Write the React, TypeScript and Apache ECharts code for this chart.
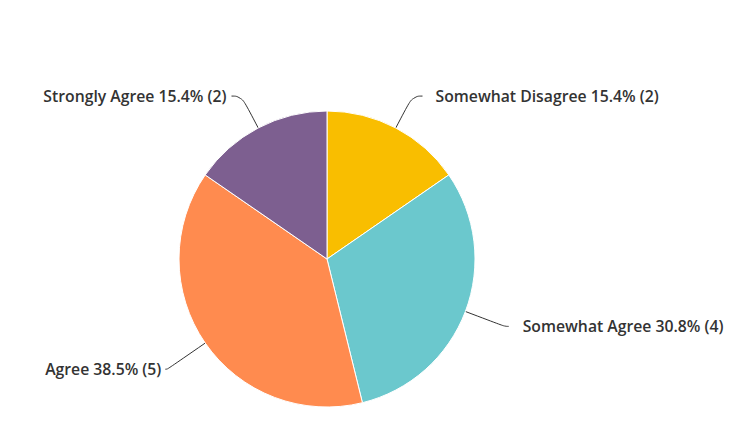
import React, { useEffect, useRef } from "react";
import * as echarts from "echarts";

const categories = ["Somewhat Disagree", "Somewhat Agree", "Agree", "Strongly Agree"];
const counts = [2, 4, 5, 2];
const percents = ["15.4%", "30.8%", "38.5%", "15.4%"];
const colors = ["#F9BE00", "#6BC8CD", "#FF8B4F", "#7D5F90"];
const labelGaps = [13, 14, 4, 5];
const lineLengths = [36, 42, 46, 36];
const lineLengths2 = [10, 4, 2, 10];

export default function App() {
  const ref = useRef<HTMLDivElement>(null);
  useEffect(() => {
    document.body.style.margin = "0";
    const chart = echarts.init(ref.current!, null, { renderer: "svg" });
    chart.setOption({
      animation: false,
      backgroundColor: "#ffffff",
      series: [
        {
          type: "pie",
          center: [327, 259],
          radius: [0, 148],
          startAngle: 90,
          clockwise: true,
          avoidLabelOverlap: false,
          itemStyle: { borderColor: "#ffffff", borderWidth: 1 },
          label: {
            show: true,
            color: "#333333",
            fontFamily: "Open Sans",
            fontWeight: 600,
            fontSize: 15.75,
            formatter: (p: any) => `${categories[p.dataIndex]} ${percents[p.dataIndex]} (${counts[p.dataIndex]})`,
          },
          labelLine: {
            show: true,
            smooth: 0.5,
            lineStyle: { color: "#333333", width: 1 },
          },
          data: categories.map((c, i) => ({
            name: c,
            value: counts[i],
            itemStyle: { color: colors[i] },
            label: { distanceToLabelLine: labelGaps[i] },
            labelLine: { length: lineLengths[i], length2: lineLengths2[i] },
          })),
        },
      ],
    });
    return () => chart.dispose();
  }, []);
  return <div ref={ref} style={{ width: 752, height: 431 }} />;
}
